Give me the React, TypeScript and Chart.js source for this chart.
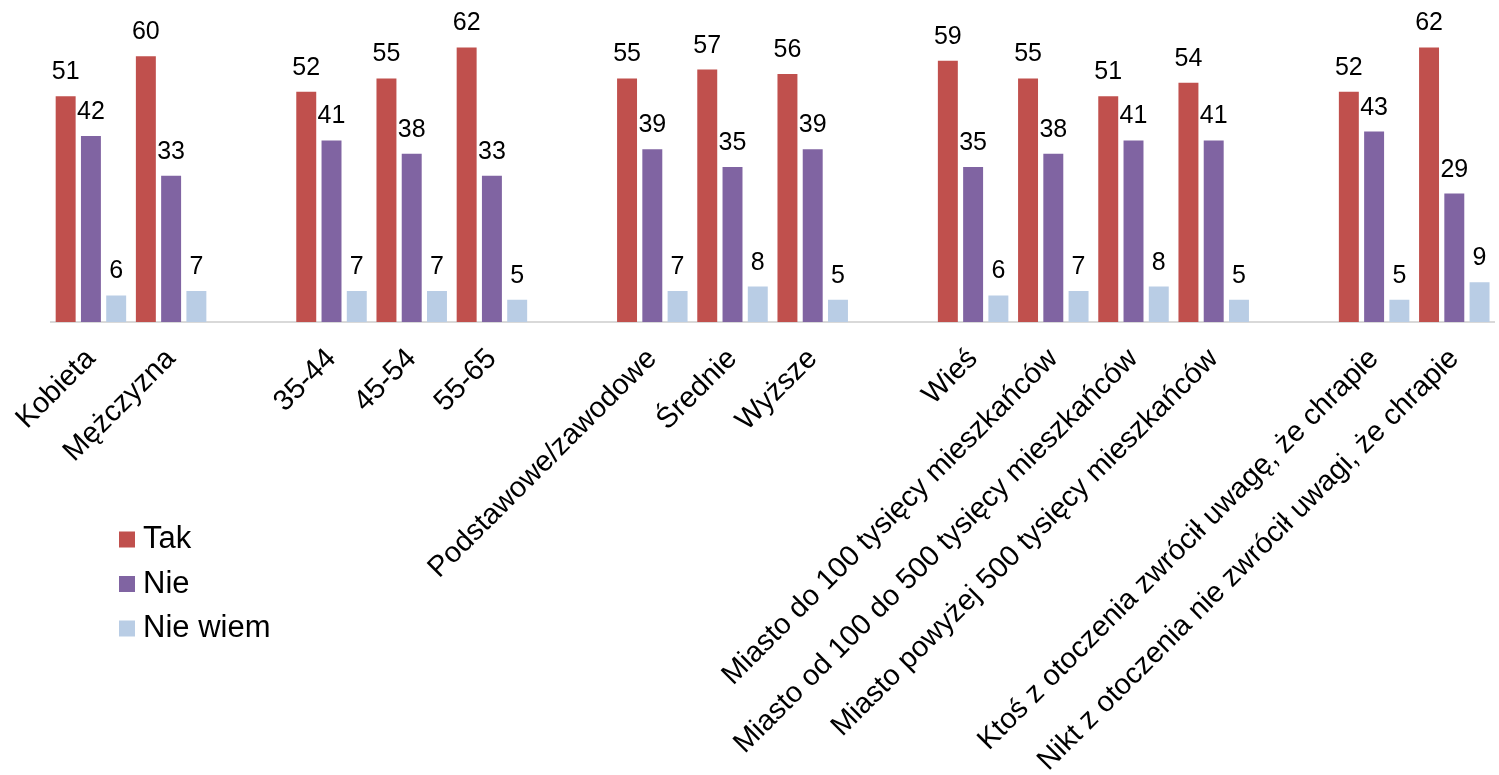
import React, { useEffect, useRef } from "react";
import { Chart, registerables } from "chart.js";

Chart.register(...registerables);

// Categories (empty strings separate the groups)
const categories = [
  "Kobieta",
  "Mężczyzna",
  "",
  "35-44",
  "45-54",
  "55-65",
  "",
  "Podstawowe/zawodowe",
  "Średnie",
  "Wyższe",
  "",
  "Wieś",
  "Miasto do 100 tysięcy mieszkańców",
  "Miasto od 100 do 500 tysięcy mieszkańców",
  "Miasto powyżej 500 tysięcy mieszkańców",
  "",
  "Ktoś z otoczenia zwrócił uwagę, że chrapie",
  "Nikt z otoczenia nie zwrócił uwagi, że chrapie",
];

const tak = [51, 60, null, 52, 55, 62, null, 55, 57, 56, null, 59, 55, 51, 54, null, 52, 62];
const nie = [42, 33, null, 41, 38, 33, null, 39, 35, 39, null, 35, 38, 41, 41, null, 43, 29];
const nieWiem = [6, 7, null, 7, 7, 5, null, 7, 8, 5, null, 6, 7, 8, 5, null, 5, 9];

const seriesNames = ["Tak", "Nie", "Nie wiem"];
const seriesColors = ["#C0504D", "#8064A2", "#B9CDE5"];

const FONT = '"Liberation Sans", Arial, sans-serif';

// Value labels above each bar
const valueLabels = {
  id: "valueLabels",
  afterDatasetsDraw(chart: any) {
    const ctx = chart.ctx;
    ctx.save();
    ctx.font = `25px ${FONT}`;
    ctx.fillStyle = "#000";
    ctx.textAlign = "center";
    ctx.textBaseline = "alphabetic";
    chart.data.datasets.forEach((ds: any, i: number) => {
      const meta = chart.getDatasetMeta(i);
      meta.data.forEach((bar: any, j: number) => {
        const v = ds.data[j];
        if (v == null) return;
        ctx.fillText(String(v), bar.x, bar.y - 17);
      });
    });
    ctx.restore();
  },
};

// Vertical legend in the lower-left corner
const sideLegend = {
  id: "sideLegend",
  afterDraw(chart: any) {
    const ctx = chart.ctx;
    ctx.save();
    ctx.font = `31px ${FONT}`;
    ctx.textAlign = "left";
    ctx.textBaseline = "middle";
    const x = 119;
    const y0 = 539.5;
    const step = 44.5;
    chart.data.datasets.forEach((ds: any, i: number) => {
      const cy = y0 + i * step;
      ctx.fillStyle = ds.backgroundColor;
      ctx.fillRect(x, cy - 8, 16, 16);
      ctx.fillStyle = "#000";
      ctx.fillText(ds.label, x + 24, cy);
    });
    ctx.restore();
  },
};

export default function App() {
  const canvasRef = useRef<HTMLCanvasElement | null>(null);

  useEffect(() => {
    if (!canvasRef.current) return;
    const seriesData = [tak, nie, nieWiem];
    const chart = new Chart(canvasRef.current, {
      type: "bar",
      data: {
        labels: categories,
        datasets: seriesData.map((d, i) => ({
          label: seriesNames[i],
          data: d,
          backgroundColor: seriesColors[i],
          borderWidth: 0,
          categoryPercentage: 0.945,
          barPercentage: 0.79,
        })),
      },
      options: {
        responsive: false,
        animation: false,
        layout: { padding: { top: 12, left: 50, right: 4, bottom: 0 } },
        plugins: {
          legend: { display: false },
          tooltip: { enabled: false },
        },
        scales: {
          x: {
            grid: { display: false, drawTicks: false },
            border: { display: true, color: "#D9D9D9", width: 2 },
            ticks: {
              autoSkip: false,
              maxRotation: 45,
              minRotation: 45,
              padding: 20,
              color: "#000",
              font: { family: FONT, size: 29 },
            },
            afterFit(scale: any) {
              scale.height = 453;
            },
          },
          y: {
            display: false,
            min: 0,
            max: 70,
          },
        },
      },
      plugins: [valueLabels, sideLegend],
    });
    return () => chart.destroy();
  }, []);

  return (
    <div style={{ position: "absolute", left: 0, top: 0, width: 1499, height: 775, background: "#fff" }}>
      <canvas ref={canvasRef} width={1499} height={775} style={{ display: "block" }} />
    </div>
  );
}
